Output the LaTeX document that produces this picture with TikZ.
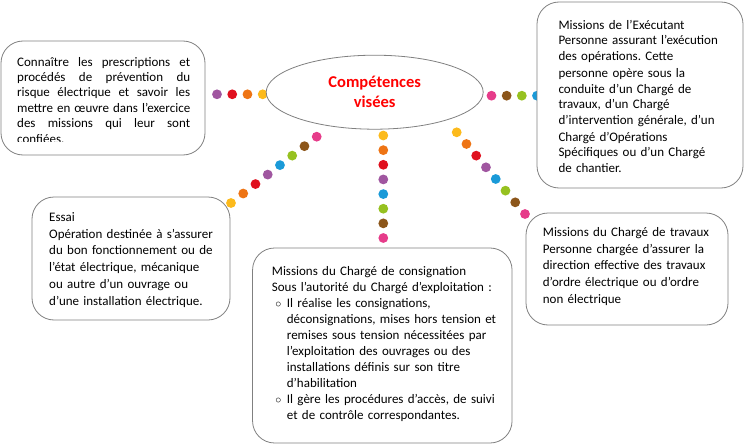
\documentclass[tikz,border=0pt]{standalone}
\usepackage{fontspec}
\setmainfont{Carlito}
\usetikzlibrary{calc,shapes.geometric}
\frenchspacing

\definecolor{dotyellow}{RGB}{252,186,28}
\definecolor{dotorange}{RGB}{238,116,20}
\definecolor{dotred}{RGB}{224,16,30}
\definecolor{dotpurple}{RGB}{160,86,160}
\definecolor{dotblue}{RGB}{26,154,216}
\definecolor{dotgreen}{RGB}{150,193,32}
\definecolor{dotbrown}{RGB}{140,86,26}
\definecolor{dotpink}{RGB}{230,60,138}
\definecolor{boxgray}{RGB}{128,128,128}

\tikzset{
  box/.style={draw=boxgray, line width=0.8pt, rounded corners=22pt, fill=white, inner sep=0pt},
  txt/.style={anchor=base west, inner sep=0pt, align=left, font=\fontsize{13}{16}\selectfont},
}

\newcommand{\bul}{\makebox[15pt][l]{\hspace{3.5pt}$\circ$}}

\begin{document}
\begin{tikzpicture}[x=1pt,y=-1pt]
\useasboundingbox (0,0) rectangle (745,447);
% chains of dots
\coordinate (la) at (262.7,94.3);
\coordinate (lb) at (217,94.3);
\coordinate (ra) at (537,95.7);
\coordinate (rb) at (491.5,95.7);
\coordinate (da) at (383.3,135.5);
\coordinate (db) at (383.3,238);
\coordinate (ea) at (231,203);
\coordinate (eb) at (316.7,136.7);
\coordinate (ta) at (456.7,132.3);
\coordinate (tb) at (525,214);
\foreach \i/\c in {0/dotyellow,1/dotorange,2/dotred,3/dotpurple}
  \fill [\c] ($(la)!\i/3!(lb)$) circle (4.9pt);
\foreach \i/\c in {0/dotblue,1/dotgreen,2/dotbrown,3/dotpink}
  \fill [\c] ($(ra)!\i/3!(rb)$) circle (4.9pt);
\foreach \i/\c in {0/dotyellow,1/dotorange,2/dotred,3/dotpurple,4/dotblue,5/dotgreen,6/dotbrown,7/dotpink} {
  \fill [\c] ($(da)!\i/7!(db)$) circle (4.9pt);
  \fill [\c] ($(ea)!\i/7!(eb)$) circle (4.9pt);
  \fill [\c] ($(ta)!\i/7!(tb)$) circle (4.9pt);
}
% centre
\node [draw=boxgray, line width=0.8pt, ellipse, fill=white, minimum width=217pt, minimum height=74pt, inner sep=0pt,
  text=red, font=\bfseries\fontsize{16.5}{20}\selectfont, align=center] (comp) at (374.7,92.2) {Compétences\\visées};
% boxes
\node [box, minimum width=204pt, minimum height=114pt] (conn) at (103,98) {};
\node [box, minimum width=206pt, minimum height=186pt] (exe) at (640,95) {};
\node [box, minimum width=198pt, minimum height=123pt] (essai) at (131,258.5) {};
\node [box, minimum width=202pt, minimum height=112pt] (trav) at (627,269) {};
\node [box, minimum width=259.5pt, minimum height=195pt] (consig) at (382.3,345.5) {};
% texts
\begin{scope}
\clip (0,0) rectangle (745,141);
\node [txt, text width=173pt, align=justify, font=\fontsize{13}{15.5}\selectfont] (conntxt) at (17,66)
  {Connaître les prescriptions et\linebreak procédés de prévention du\linebreak risque électrique et savoir les\linebreak mettre en œuvre dans l’exercice\linebreak des missions qui leur sont\linebreak confiées.};
\end{scope}
\node [txt, text width=190pt] (exetxt) at (558.3,29)
  {Missions de l’Exécutant\\Personne assurant l’exécution\\des opérations. Cette\\personne opère sous la\\conduite d’un Chargé de\\travaux, d’un Chargé\\d’intervention générale, d’un\\Chargé d’Opérations\\Spécifiques ou d’un Chargé\\de chantier.};
\node [txt, text width=180pt, font=\fontsize{13}{16.7}\selectfont] (essaitxt) at (49,221.5)
  {Essai\\Opération destinée à s’assurer\\du bon fonctionnement ou de\\l’état électrique, mécanique\\ou autre d’un ouvrage ou\\d’une installation électrique.};
\node [txt, text width=180pt, font=\fontsize{13}{16.7}\selectfont] (travtxt) at (542.7,236.5)
  {Missions du Chargé de travaux\\Personne chargée d’assurer la\\direction effective des travaux\\d’ordre électrique ou d’ordre\\non électrique};
\node [txt, text width=240pt, font=\fontsize{13}{16.1}\selectfont] (consigtxt) at (271.7,275)
  {Missions du Chargé de consignation\\Sous l’autorité du Chargé d’exploitation :\\
   \bul Il réalise les consignations,\\\hspace*{15pt}déconsignations, mises hors tension et\\
   \hspace*{15pt}remises sous tension nécessitées par\\\hspace*{15pt}l’exploitation des ouvrages ou des\\
   \hspace*{15pt}installations définis sur son titre\\\hspace*{15pt}d’habilitation\\
   \bul Il gère les procédures d’accès, de suivi\\\hspace*{15pt}et de contrôle correspondantes.};
\end{tikzpicture}
\end{document}
